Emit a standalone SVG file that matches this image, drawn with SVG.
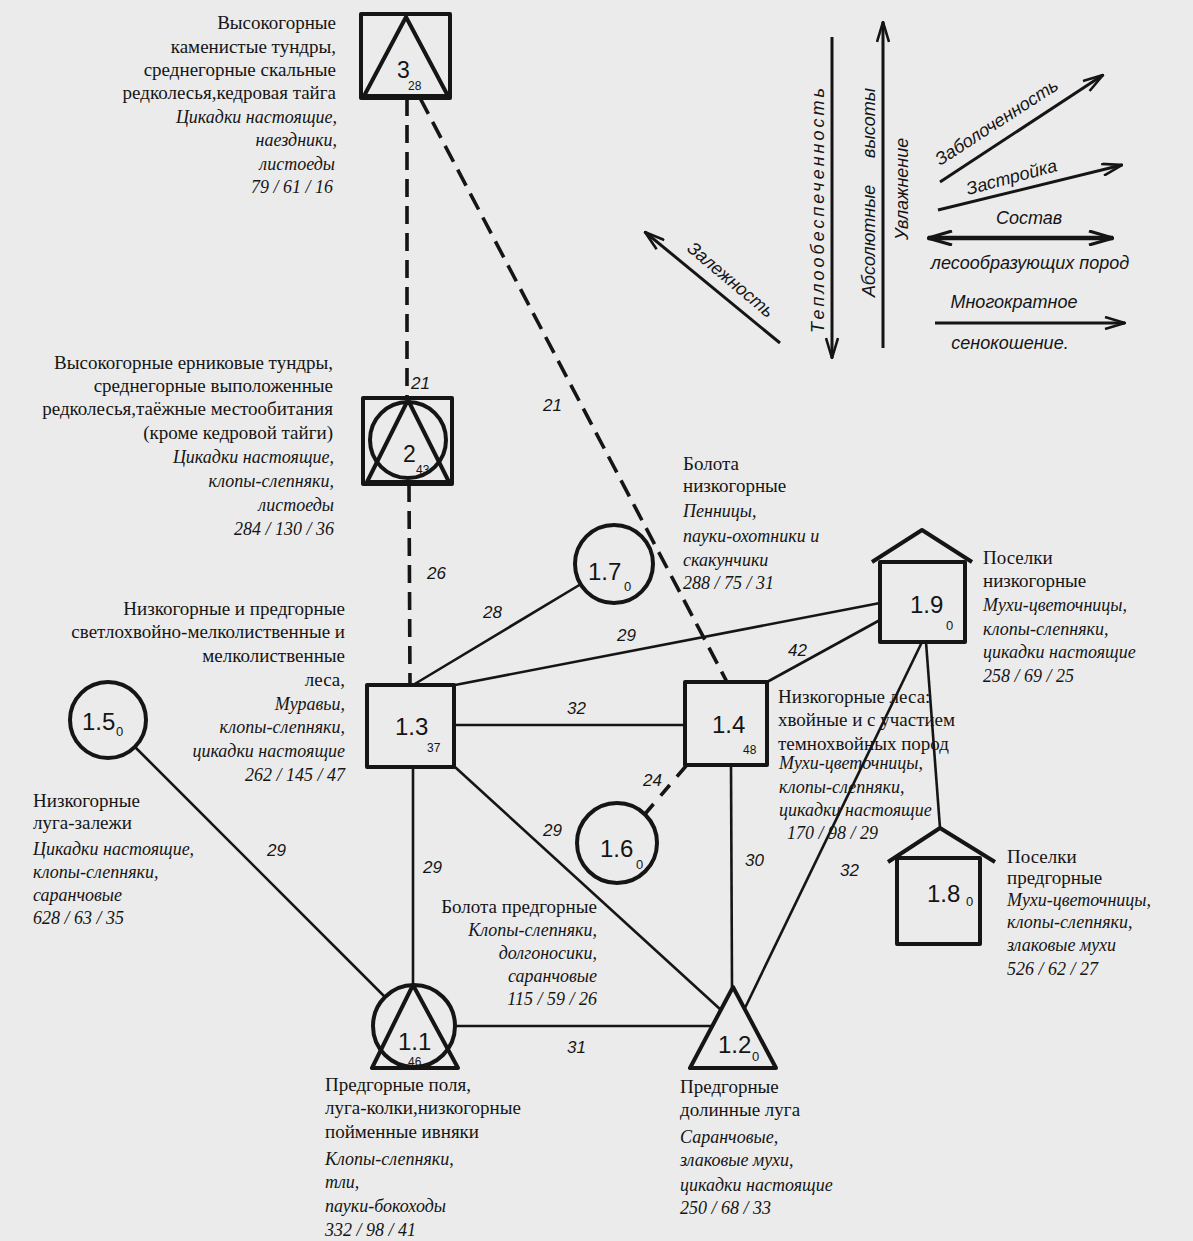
<svg xmlns="http://www.w3.org/2000/svg" width="1193" height="1241" viewBox="0 0 1193 1241">
<defs>
<style>
.s{font-family:"Liberation Serif","Times New Roman",serif;font-size:19px;fill:#151515}
.i{font-family:"Liberation Serif","Times New Roman",serif;font-style:italic;font-size:18px;fill:#151515}
.n{font-family:"Liberation Sans",Arial,sans-serif;font-style:italic;font-size:17px;fill:#151515}
.id{font-family:"Liberation Sans",Arial,sans-serif;font-size:24px;fill:#151515}
.sb{font-family:"Liberation Sans",Arial,sans-serif;font-size:12px;fill:#151515}
.ax{font-family:"Liberation Sans",Arial,sans-serif;font-style:italic;font-size:18px;fill:#151515}
.sh{fill:none;stroke:#151515;stroke-width:4;stroke-linejoin:round}
.c{fill:none;stroke:#151515;stroke-width:2.6}
.d{fill:none;stroke:#151515;stroke-width:3.6;stroke-dasharray:18 9}
.a{fill:none;stroke:#151515;stroke-width:3}
</style>
<marker id="ah" viewBox="0 0 22 14" refX="21" refY="7" markerWidth="22" markerHeight="14" markerUnits="userSpaceOnUse" orient="auto-start-reverse">
<path d="M1,1 L21,7 L1,13" fill="none" stroke="#151515" stroke-width="2.6"/>
</marker>
<marker id="ahb" viewBox="0 0 26 16" refX="25" refY="8" markerWidth="26" markerHeight="16" markerUnits="userSpaceOnUse" orient="auto-start-reverse">
<path d="M1,1 L25,8 L1,15" fill="none" stroke="#151515" stroke-width="3.2"/>
</marker>
</defs>
<rect x="0" y="0" width="1193" height="1241" fill="#ebebeb"/>

<g id="connectors">
<line class="d" x1="407" y1="98" x2="407" y2="398"/>
<line class="d" x1="409" y1="484" x2="410" y2="685"/>
<line class="d" x1="420" y1="98" x2="727" y2="682"/>
<line class="d" x1="686" y1="766" x2="645" y2="814" style="stroke-dasharray:14 11"/>
<line class="c" x1="135" y1="747" x2="385" y2="997"/>
<line class="c" x1="413" y1="685" x2="581" y2="584"/>
<line class="c" x1="455" y1="685" x2="880" y2="603"/>
<line class="c" x1="455" y1="725" x2="685" y2="725"/>
<line class="c" x1="767" y1="682" x2="880" y2="620"/>
<line class="c" x1="455" y1="767" x2="721" y2="1010"/>
<line class="c" x1="413" y1="767" x2="413" y2="985"/>
<line class="c" x1="455" y1="1026" x2="712" y2="1026"/>
<line class="c" x1="731" y1="765" x2="732" y2="987"/>
<line class="c" x1="922" y1="642" x2="745" y2="1008"/>
<line class="c" x1="926" y1="642" x2="940" y2="828"/>
<text class="n" x="411" y="389">21</text>
<text class="n" x="543" y="411">21</text>
<text class="n" x="427" y="579">26</text>
<text class="n" x="483" y="618">28</text>
<text class="n" x="617" y="641">29</text>
<text class="n" x="567" y="714">32</text>
<text class="n" x="788" y="656">42</text>
<text class="n" x="643" y="786">24</text>
<text class="n" x="543" y="836">29</text>
<text class="n" x="423" y="873">29</text>
<text class="n" x="267" y="856">29</text>
<text class="n" x="745" y="866">30</text>
<text class="n" x="840" y="876">32</text>
<text class="n" x="567" y="1053">31</text>
</g>

<g id="factors">
<line class="a" x1="832" y1="37" x2="832" y2="358" marker-end="url(#ah)"/>
<line class="a" x1="883" y1="348" x2="883" y2="22" marker-end="url(#ah)"/>
<line class="a" x1="940" y1="182" x2="1103" y2="75" marker-end="url(#ah)"/>
<line class="a" x1="938" y1="210" x2="1122" y2="165" marker-end="url(#ah)"/>
<line class="a" x1="928" y1="238" x2="1113" y2="238" style="stroke-width:4.5" marker-start="url(#ahb)" marker-end="url(#ahb)"/>
<line class="a" x1="935" y1="323" x2="1125" y2="323" marker-end="url(#ah)"/>
<line class="a" x1="780" y1="343" x2="645" y2="232" marker-end="url(#ah)"/>
<text class="ax" transform="translate(824,333) rotate(-90)" textLength="245" lengthAdjust="spacing">Теплообеспеченность</text>
<text class="ax" transform="translate(875,297) rotate(-90)">Абсолютные</text>
<text class="ax" transform="translate(875,158) rotate(-90)">высоты</text>
<text class="ax" transform="translate(908,240) rotate(-90)">Увлажнение</text>
<text class="ax" transform="translate(940,166) rotate(-33)">Заболоченность</text>
<text class="ax" transform="translate(968,195) rotate(-15)">Застройка</text>
<text class="ax" transform="translate(686,250) rotate(40)">Залежность</text>
<text class="ax" x="1029" y="224" text-anchor="middle">Состав</text>
<text class="ax" x="1030" y="269" text-anchor="middle">лесообразующих пород</text>
<text class="ax" x="1014" y="308" text-anchor="middle">Многократное</text>
<text class="ax" x="1010" y="349" text-anchor="middle">сенокошение.</text>
</g>

<g id="node-3">
<rect class="sh" x="361" y="14" width="89" height="84"/>
<polygon class="sh" points="406,17 364,96 448,96"/>
<text class="id" x="397" y="78" style="font-size:23px">3</text>
<text class="sb" x="408" y="90">28</text>
<g text-anchor="end">
<text class="s" x="336" y="29">Высокогорные</text>
<text class="s" x="336" y="53">каменистые тундры,</text>
<text class="s" x="336" y="76">среднегорные скальные</text>
<text class="s" x="336" y="99">редколесья,кедровая тайга</text>
<text class="i" x="337" y="123">Цикадки настоящие,</text>
<text class="i" x="337" y="146">наездники,</text>
<text class="i" x="335" y="170">листоеды</text>
<text class="i" x="333" y="193">79 / 61 / 16</text>
</g>
</g>

<g id="node-2">
<rect class="sh" x="363" y="398" width="89" height="86"/>
<circle class="sh" cx="408" cy="440" r="38"/>
<polygon class="sh" points="408,400 367,482 449,482"/>
<text class="id" x="403" y="462" style="font-size:23px">2</text>
<text class="sb" x="416" y="474">43</text>
<g text-anchor="end">
<text class="s" x="333" y="369">Высокогорные ерниковые тундры,</text>
<text class="s" x="333" y="392">среднегорные выположенные</text>
<text class="s" x="333" y="415">редколесья,таёжные местообитания</text>
<text class="s" x="333" y="439">(кроме кедровой тайги)</text>
<text class="i" x="334" y="463">Цикадки настоящие,</text>
<text class="i" x="334" y="487">клопы-слепняки,</text>
<text class="i" x="334" y="511">листоеды</text>
<text class="i" x="334" y="535">284 / 130 / 36</text>
</g>
</g>

<g id="node-1-3">
<rect class="sh" x="367" y="685" width="87" height="82"/>
<text class="id" x="395" y="735">1.3</text>
<text class="sb" x="427" y="752">37</text>
<g text-anchor="end">
<text class="s" x="345" y="615">Низкогорные и предгорные</text>
<text class="s" x="345" y="638">светлохвойно-мелколиственные и</text>
<text class="s" x="345" y="662">мелколиственные</text>
<text class="s" x="345" y="686">леса,</text>
<text class="i" x="345" y="710">Муравьи,</text>
<text class="i" x="345" y="733">клопы-слепняки,</text>
<text class="i" x="345" y="757">цикадки настоящие</text>
<text class="i" x="345" y="781">262 / 145 / 47</text>
</g>
</g>

<g id="node-1-5">
<circle class="sh" cx="108" cy="720" r="38"/>
<text class="id" x="82" y="730">1.5</text>
<text class="sb" x="116" y="736" style="font-size:13px">0</text>
<text class="s" x="33" y="807">Низкогорные</text>
<text class="s" x="33" y="829">луга-залежи</text>
<text class="i" x="33" y="855">Цикадки настоящие,</text>
<text class="i" x="33" y="878">клопы-слепняки,</text>
<text class="i" x="33" y="901">саранчовые</text>
<text class="i" x="33" y="924">628 / 63 / 35</text>
</g>

<g id="node-1-7">
<circle class="sh" cx="614" cy="564" r="39"/>
<text class="id" x="588" y="580">1.7</text>
<text class="sb" x="624" y="591" style="font-size:13px">0</text>
<text class="s" x="683" y="470">Болота</text>
<text class="s" x="683" y="492">низкогорные</text>
<text class="i" x="683" y="517">Пенницы,</text>
<text class="i" x="683" y="542">пауки-охотники и</text>
<text class="i" x="683" y="566">скакунчики</text>
<text class="i" x="683" y="589">288 / 75 / 31</text>
</g>

<g id="node-1-9">
<polyline class="sh" points="872,562 922,530 972,562"/>
<rect class="sh" x="880" y="562" width="85" height="80"/>
<text class="id" x="910" y="613">1.9</text>
<text class="sb" x="946" y="630" style="font-size:13px">0</text>
<text class="s" x="983" y="564">Поселки</text>
<text class="s" x="983" y="587">низкогорные</text>
<text class="i" x="983" y="611">Мухи-цветочницы,</text>
<text class="i" x="983" y="635">клопы-слепняки,</text>
<text class="i" x="983" y="658">цикадки настоящие</text>
<text class="i" x="983" y="682">258 / 69 / 25</text>
</g>

<g id="node-1-4">
<rect class="sh" x="685" y="682" width="82" height="83"/>
<text class="id" x="712" y="733">1.4</text>
<text class="sb" x="743" y="754">48</text>
<text class="s" x="778" y="703">Низкогорные леса:</text>
<text class="s" x="778" y="726">хвойные и с участием</text>
<text class="s" x="778" y="750">темнохвойных пород</text>
<text class="i" x="779" y="769">Мухи-цветочницы,</text>
<text class="i" x="779" y="793">клопы-слепняки,</text>
<text class="i" x="779" y="816">цикадки настоящие</text>
<text class="i" x="787" y="839">170 / 98 / 29</text>
</g>

<g id="node-1-6">
<circle class="sh" cx="617" cy="843" r="40"/>
<text class="id" x="600" y="857">1.6</text>
<text class="sb" x="636" y="869" style="font-size:13px">0</text>
<g text-anchor="end">
<text class="s" x="597" y="913">Болота предгорные</text>
<text class="i" x="597" y="936">Клопы-слепняки,</text>
<text class="i" x="597" y="959">долгоносики,</text>
<text class="i" x="597" y="982">саранчовые</text>
<text class="i" x="597" y="1005">115 / 59 / 26</text>
</g>
</g>

<g id="node-1-8">
<polyline class="sh" points="888,862 940,828 995,862"/>
<rect class="sh" x="897" y="858" width="83" height="86"/>
<text class="id" x="927" y="902">1.8</text>
<text class="sb" x="966" y="906" style="font-size:13px">0</text>
<text class="s" x="1007" y="863">Поселки</text>
<text class="s" x="1007" y="884">предгорные</text>
<text class="i" x="1007" y="906">Мухи-цветочницы,</text>
<text class="i" x="1007" y="928">клопы-слепняки,</text>
<text class="i" x="1007" y="951">злаковые мухи</text>
<text class="i" x="1007" y="975">526 / 62 / 27</text>
</g>

<g id="node-1-1">
<circle class="sh" cx="414" cy="1026" r="41"/>
<polygon class="sh" points="413,985 372,1068 458,1068"/>
<text class="id" x="398" y="1050">1.1</text>
<text class="sb" x="408" y="1066">46</text>
<text class="s" x="325" y="1091">Предгорные поля,</text>
<text class="s" x="325" y="1114">луга-колки,низкогорные</text>
<text class="s" x="325" y="1138">пойменные ивняки</text>
<text class="i" x="325" y="1165">Клопы-слепняки,</text>
<text class="i" x="325" y="1188">тли,</text>
<text class="i" x="325" y="1212">пауки-бокоходы</text>
<text class="i" x="325" y="1236">332 / 98 / 41</text>
</g>

<g id="node-1-2">
<polygon class="sh" points="733,987 690,1068 776,1068"/>
<text class="id" x="718" y="1053">1.2</text>
<text class="sb" x="752" y="1061" style="font-size:13px">0</text>
<text class="s" x="680" y="1093">Предгорные</text>
<text class="s" x="680" y="1116">долинные луга</text>
<text class="i" x="680" y="1143">Саранчовые,</text>
<text class="i" x="680" y="1166">злаковые мухи,</text>
<text class="i" x="680" y="1191">цикадки настоящие</text>
<text class="i" x="680" y="1214">250 / 68 / 33</text>
</g>
</svg>
